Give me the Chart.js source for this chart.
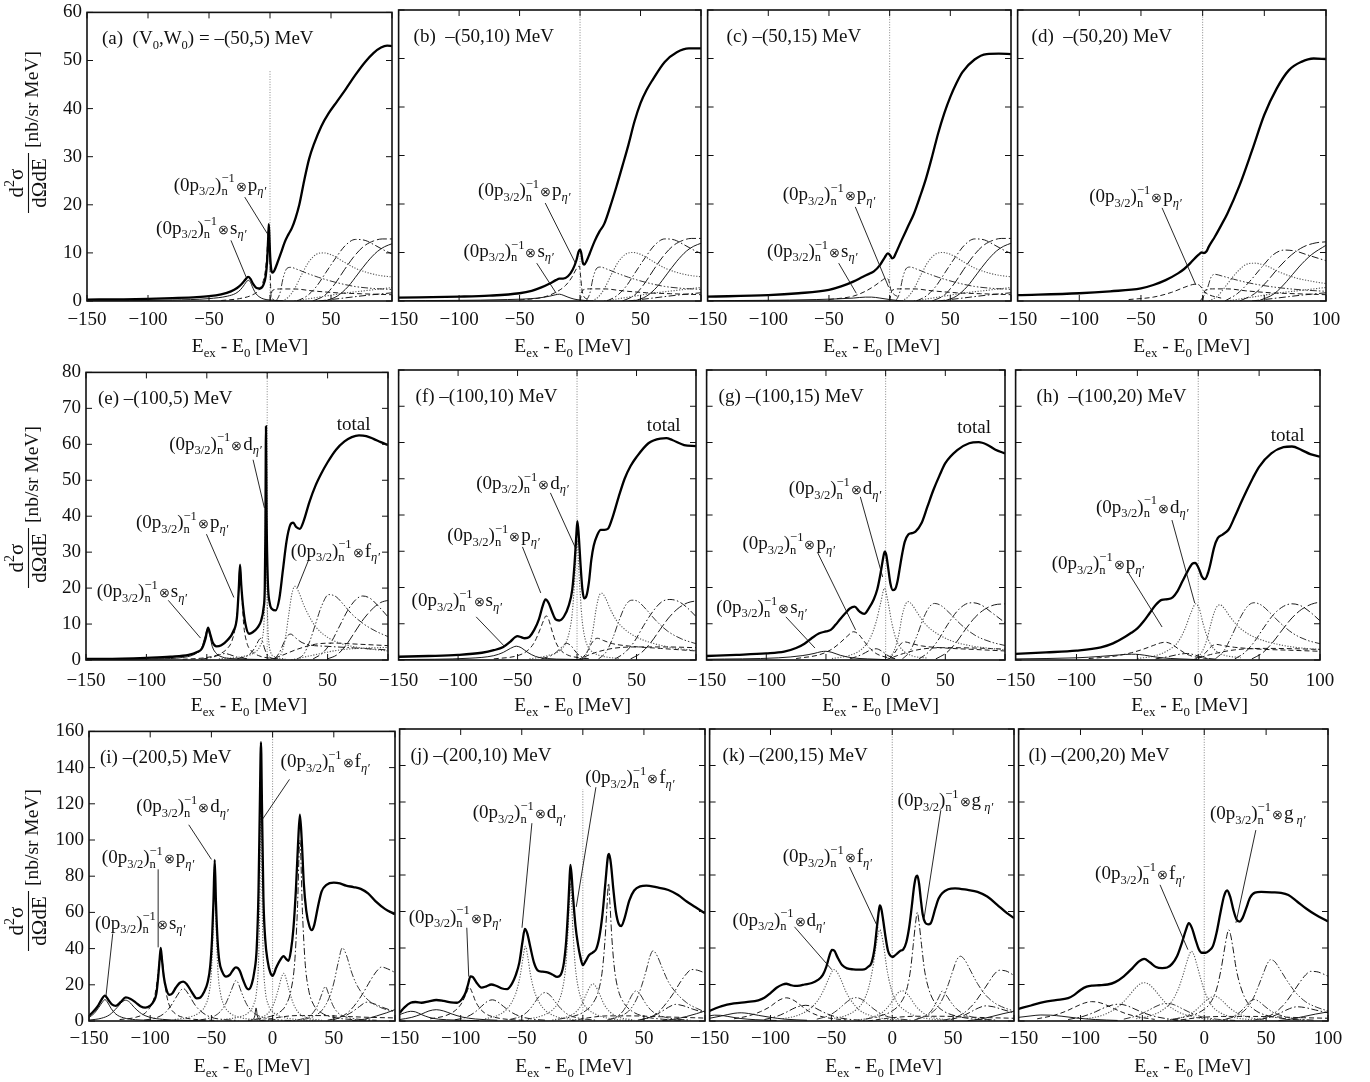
<!DOCTYPE html>
<html>
<head>
<meta charset="utf-8">
<script src="https://cdn.jsdelivr.net/npm/chart.js@4/dist/chart.umd.min.js"></script>
<style>
html, body { margin: 0; padding: 0; background: #fff; }
#wrap { position: relative; width: 1370px; height: 1082px; overflow: hidden; background: #fff; }
#wrap canvas { position: absolute; }
</style>
</head>
<body>
<div id="wrap"></div>
<script>
// ---- data: [E_ex - E_0 (MeV), d2sigma/dOmega dE (nb/sr MeV)] ----

// row 1 : V0 = -50 MeV
const aTot = [[-150,0.3],[-120,0.35],[-100,0.45],[-80,0.6],[-60,0.8],[-50,1],[-40,1.4],[-32,2],[-27,2.7],[-23,3.6],[-20,4.5],[-18,5],[-16,4.6],[-14,3.6],[-11,2.7],[-8,2.6],[-5.5,3.3],[-3.5,5.2],[-2.3,8.5],[-1.5,13],[-1,16],[-0.5,13.5],[0,10],[0.8,7],[2,5.9],[3.5,6.3],[6,7.9],[9,10],[12,12.2],[15,13.8],[18,15.2],[21,17.3],[24,20],[28,25],[32,29.5],[36,32.6],[42,36.3],[48,39],[55,41.5],[62,44],[70,47],[78,49.7],[85,51.6],[91,52.7],[96,53.1],[100,53]];
const aS = [[-150,0.05],[-80,0.2],[-50,0.5],[-35,1],[-28,1.6],[-24,2.4],[-21,3.4],[-19,4.1],[-17.5,4.3],[-16,3.9],[-14.5,3],[-12,1.7],[-9,0.9],[-5,0.4],[0,0.2],[10,0.05]];
const aP = [[-40,0.1],[-25,0.5],[-15,1.2],[-9,2.3],[-6,3.8],[-4,6],[-2.5,10],[-1.5,14.5],[-1,15.3],[-0.5,13],[0,8],[0.5,3],[1,1],[3,0.3]];

const bTot = [[-150,0.7],[-100,0.9],[-75,1.1],[-50,1.6],[-40,2.1],[-32,2.8],[-25,3.6],[-20,4.3],[-17,4.6],[-14,4.6],[-10,5.1],[-6,6.5],[-3,8.4],[-1.2,10.2],[0,10.6],[1,9.9],[2.2,8],[3.5,7.5],[5.5,8.3],[8,9.8],[12,12.3],[16,14.3],[20,15.9],[25,19.5],[30,23.5],[35,27.8],[40,32.2],[45,37],[50,40.8],[55,43.5],[60,45.6],[70,49.3],[80,51.3],[90,52.1],[100,52.1]];
const bS = [[-150,0.05],[-60,0.3],[-35,0.6],[-25,1],[-20,1.3],[-17,1.4],[-14,1.2],[-10,0.8],[-5,0.4],[0,0.2],[10,0]];
const bP = [[-50,0.2],[-30,0.8],[-20,1.8],[-12,3.2],[-7,4.8],[-4,6.2],[-2,7],[-0.5,7.2],[0.5,5],[1.5,2.5],[3,1],[6,0.4]];

const cTot = [[-150,0.9],[-100,1.2],[-75,1.6],[-50,2.3],[-40,3],[-30,4],[-22,5],[-17,5.6],[-13,6.1],[-8,7.4],[-4,9],[-1.5,9.8],[0.5,9.4],[2,8.8],[3.5,9],[5,9.8],[10,12.6],[15,15.3],[20,18],[25,21.5],[30,25.3],[35,29.8],[40,34.6],[45,38.7],[50,42.1],[55,44.9],[60,47.2],[70,49.8],[80,50.9],[90,51],[100,50.9]];
const cS = [[-150,0.05],[-60,0.3],[-30,0.6],[-20,0.8],[-15,0.8],[-8,0.6],[0,0.3],[10,0]];
const cP = [[-50,0.3],[-30,1],[-20,2],[-12,3.2],[-6,4.3],[-3,4.7],[-1,4.4],[0,3.5],[1,2.3],[3,1.5],[8,0.8]];

const dTot = [[-150,1.2],[-100,1.6],[-75,2],[-50,2.6],[-40,3.3],[-30,4.3],[-20,5.7],[-15,6.6],[-10,7.8],[-6,8.9],[-3,9.6],[-1,10],[1,9.9],[3,10.2],[5,11.2],[10,13.3],[15,15.6],[20,18],[30,23.9],[40,31],[50,38.4],[60,43.8],[70,47.6],[80,49.3],[90,50],[100,49.9]];
const dP = [[-60,0.3],[-40,0.8],[-25,1.8],[-15,2.8],[-8,3.4],[-5,3.5],[-2,3.1],[0,2.4],[2,1.8],[6,1.2],[15,0.6]];

// higher partial waves, row 1 (a-c look alike)
const r1K1 = [[5,0],[8,1.5],[11,5],[14,6.8],[17,7],[22,6.6],[30,5.8],[40,4.9],[55,3.8],[70,3],[85,2.6],[100,2.4]];
const r1K2 = [[10,0],[15,0.8],[20,2.5],[26,5.5],[32,8.2],[38,9.7],[44,10],[52,9.4],[60,8.2],[70,6.8],[80,5.9],[90,5.3],[100,5]];
const r1K3 = [[22,0],[30,1],[38,3],[46,6],[54,9],[62,11.6],[70,12.8],[78,12.6],[86,11.6],[94,10.5],[100,9.8]];
const r1K4 = [[35,0],[45,1.2],[53,3.5],[61,6.5],[69,9.3],[77,11.4],[85,12.5],[92,12.9],[100,12.9]];
const r1K5 = [[45,0],[55,1],[64,3],[72,5.6],[80,8.2],[88,10.3],[94,11.3],[100,11.9]];
const r1L1 = [[0,0],[2,2.2],[8,2.5],[20,2.5],[35,2.1],[55,1.7],[75,1.5],[100,1.3]];
const r1L2 = [[20,0],[40,0.8],[60,1.6],[80,2.2],[100,2.8]];
const r1L3 = [[40,0],[60,0.6],[80,1.2],[100,1.7]];
const dK1 = [[-2,0],[3,2],[7,5],[10,5.5],[15,5.2],[25,4.5],[40,3.6],[60,2.8],[80,2.3],[100,2]];
const dK2 = [[5,0],[12,1],[20,3.5],[28,6],[35,7.5],[42,7.8],[52,7.2],[62,6],[75,4.8],[90,4],[100,3.6]];
const dK3 = [[18,0],[28,1.5],[38,4],[48,7],[57,9.5],[66,10.5],[75,10.3],[85,9.5],[100,8.3]];
const dK4 = [[30,0],[42,1.5],[52,4],[62,7],[72,9.5],[82,11.2],[92,12],[100,12.2]];
const dK5 = [[45,0],[58,1.5],[68,4],[78,7],[88,9.5],[100,11.5]];

// row 2 : V0 = -100 MeV
const eTot = [[-150,0.3],[-120,0.4],[-100,0.6],[-80,0.9],[-65,1.4],[-58,2.2],[-54,3.2],[-51,6],[-49,9],[-47,7],[-45,4.8],[-42,3.8],[-38,4.1],[-33,5.5],[-28,8],[-25,12],[-23.5,20],[-22.5,26.5],[-21.5,21],[-20,15],[-18,10],[-15,7.3],[-12,7.7],[-8,9],[-5,11],[-3,14.5],[-2,20],[-1.5,35],[-1,65],[-0.5,40],[0.5,22],[2,16],[4,14.2],[7,13.8],[10,17],[13,25],[16,33],[19,37.5],[21.5,38.2],[24,37],[27,36.5],[30,38.5],[35,44],[40,48.5],[45,52],[50,55],[57,58.5],[64,60.8],[70,62],[76,62.5],[82,62.3],[88,61.5],[94,60.6],[100,59.8]];
const eS = [[-150,0.1],[-90,0.3],[-70,0.7],[-62,1.3],[-57,2.3],[-54,3.6],[-51.5,6.5],[-49.5,8.5],[-47.5,6.8],[-45.5,3.8],[-42,1.8],[-37,0.8],[-30,0.4],[-15,0.2],[0,0.1]];
const eP = [[-70,0.2],[-50,0.7],[-40,1.6],[-33,3.2],[-29,5.5],[-26,10],[-24,17],[-22.5,26],[-21,18],[-19.5,10],[-17,5],[-13,2.5],[-7,1.2],[0,0.6],[10,0.3]];
const eD = [[-40,0.3],[-20,1],[-10,2.2],[-6,3.8],[-4,6],[-2.5,12],[-1.7,25],[-1,64],[-0.3,25],[0.5,10],[1.5,4.5],[3,2],[6,0.9],[15,0.3]];
const eX1 = [[-25,0.3],[-15,1.5],[-10,3.5],[-7,5.5],[-5.5,6],[-4,5.3],[-2,3],[0,1.5],[3,0.6],[10,0.2]];
const eX2 = [[-55,0.2],[-45,0.8],[-38,1.6],[-35,1.8],[-31,1.5],[-25,0.8],[-15,0.3]];
const eF = [[8,0.3],[12,2],[15,6],[18,13],[20.5,18.5],[23,20.5],[26,19],[30,15.5],[35,12],[40,9.3],[50,6.3],[60,4.7],[75,3.5],[100,2.5]];
const eX3 = [[6,0.3],[10,2],[14,5],[17,6.8],[19.5,7.2],[23,6.3],[28,5],[35,4.2],[50,3.8],[70,3.4],[100,2.8]];
const eB1 = [[25,0.3],[30,1.5],[35,5],[40,10],[45,15],[51,18.2],[57,17.6],[63,15.5],[70,12.8],[80,10],[90,8],[100,6.5]];
const eB2 = [[38,0.3],[46,2],[53,5],[60,9.5],[67,14],[74,17],[79,17.8],[85,17.2],[92,15],[100,12]];
const eB3 = [[50,0.3],[58,1.5],[65,4],[72,7.5],[80,11.5],[88,14.5],[94,16],[100,16.6]];
const eL1 = [[0,0],[10,1],[25,3],[40,4.4],[55,4.7],[75,4.4],[100,4]];
const eL2 = [[20,0],[40,1.5],[60,2.8],[80,3.3],[100,3.5]];

const fTot = [[-150,0.9],[-125,1.1],[-100,1.4],[-80,2],[-70,2.7],[-62,3.6],[-56,5.1],[-52,6.3],[-50,6.6],[-47,6.3],[-44,6],[-40,6.4],[-36,8.3],[-32,11.3],[-29,14.8],[-26.5,16.7],[-24,15.8],[-21,13.3],[-18,11.2],[-15,10.9],[-11,12],[-7,15],[-4,19.5],[-2,27],[-0.5,35],[0.3,38.3],[1.5,34],[3,26],[4.5,19.5],[6,17],[8,17.8],[10,21.5],[12,27.6],[14,31.5],[17,34.5],[20,35.9],[23,35.9],[26,36.2],[30,39.5],[35,45],[40,50],[45,53.5],[50,56],[60,59.8],[70,61.1],[75,61.2],[80,60.7],[90,59.3],[100,59]];
const fS = [[-150,0.1],[-90,0.5],[-70,1.2],[-62,2.1],[-56,3.2],[-51,3.8],[-47,3.4],[-42,2.2],[-35,1],[-25,0.4],[-10,0.2],[5,0.1]];
const fP = [[-70,0.3],[-50,1.2],[-42,2.5],[-36,4.8],[-31,8.5],[-28,11],[-26,12.2],[-24,11.3],[-21,8],[-18,5],[-14,2.8],[-8,1.4],[0,0.7],[10,0.3]];
const fD = [[-40,0.3],[-25,1.2],[-15,2.5],[-9,5],[-6,8.5],[-4,13],[-2,22],[0,33],[2,22],[4,12],[6,7],[9,3.8],[14,2],[22,1],[35,0.4]];
const fX1 = [[-30,0.3],[-20,1.5],[-14,3.2],[-9,4.6],[-5,3.9],[-1,2.2],[3,1],[10,0.3]];
const fF = [[4,0.3],[9,2.5],[13,7.5],[16,14],[19,18],[21,18.4],[24,17],[28,14],[33,11],[40,8.5],[50,6.3],[65,4.5],[80,3.4],[100,2.6]];
const fX3 = [[4,0.3],[9,2.5],[13,5],[17,6],[22,5.4],[30,4.5],[45,3.8],[70,3.2],[100,2.5]];
const fB1 = [[18,0.3],[24,2],[30,6],[36,11.5],[41,15.2],[46,16.5],[51,16.2],[58,14],[66,11],[76,8],[88,5.8],[100,4.5]];
const fB2 = [[32,0.3],[40,2],[48,5],[56,9.5],[64,13.5],[71,16],[78,16.7],[85,16.2],[92,14.6],[100,12]];
const fB3 = [[45,0.3],[54,2],[62,4.8],[70,8.5],[78,12],[86,14.5],[93,15.8],[100,16.3]];
const fL1 = [[0,0],[15,2],[30,3.2],[50,3.6],[75,3.6],[100,3.4]];

const gTot = [[-150,1.1],[-125,1.4],[-100,1.8],[-85,2.3],[-75,3.3],[-68,4.5],[-62,6],[-56,7.3],[-50,7.9],[-46,8.3],[-42,9.7],[-38,11.3],[-34,12.8],[-30,14.2],[-26,14.7],[-22,13.4],[-18,12.7],[-14,14.3],[-10,16.7],[-7,19.5],[-4,24.4],[-2,28.3],[-0.8,29.9],[0.5,29],[2,25.7],[4,21.1],[6,19.3],[8,19.6],[10,21.8],[12,25.7],[14,29.5],[16,32.6],[19,34.6],[22,35],[25,35.4],[30,37.7],[35,42.3],[40,46.9],[45,50.8],[50,54.3],[60,57.9],[70,59.8],[78,60.1],[85,59.4],[92,58],[100,57]];
const gS = [[-150,0.2],[-90,0.6],[-70,1.2],[-60,1.8],[-54,2.3],[-50,2.4],[-45,2.1],[-38,1.3],[-28,0.6],[-15,0.3],[0,0.1]];
const gP = [[-75,0.4],[-55,1.5],[-45,3],[-38,4.8],[-32,6.6],[-27,7.8],[-23,7.2],[-19,5.6],[-14,3.5],[-8,1.8],[0,0.8],[10,0.3]];
const gD = [[-45,0.4],[-30,1.3],[-20,3],[-13,6],[-8,10.5],[-4,16],[-1,19.8],[2,16],[5,10.5],[9,5.5],[14,2.8],[22,1.2],[35,0.5]];
const gX1 = [[-30,0.3],[-20,1.5],[-13,2.7],[-8,3.1],[-3,2.4],[2,1.2],[8,0.4]];
const gF = [[2,0.3],[7,2.5],[11,7],[14,12.5],[17,15.6],[19,16.1],[22,15.3],[27,12.8],[33,10],[42,7.5],[55,5.3],[70,4],[85,3.3],[100,2.8]];
const gX3 = [[3,0.3],[8,2.2],[12,4.2],[16,5],[21,4.6],[30,3.9],[50,3.3],[75,2.9],[100,2.5]];
const gB1 = [[14,0.3],[20,2.2],[26,6.5],[32,11.8],[37,14.8],[41,15.6],[46,15.1],[54,12.8],[63,9.8],[75,6.8],[88,5],[100,4]];
const gB2 = [[28,0.3],[36,2.2],[44,5.5],[52,9.8],[60,13.5],[67,15.4],[73,15.8],[80,15.2],[88,13.3],[100,10.3]];
const gB3 = [[42,0.3],[51,2],[59,4.8],[67,8.5],[75,11.8],[83,14],[91,15.2],[100,15.5]];
const gL1 = [[0,0],[15,1.8],[30,3],[50,3.4],[75,3.3],[100,3]];

const hTot = [[-150,1.7],[-125,2.1],[-100,2.6],[-80,3.5],[-70,4.6],[-60,6.4],[-55,7.5],[-50,8.7],[-45,10.6],[-40,12.9],[-35,15.2],[-30,16.6],[-25,16.8],[-21,17.3],[-17,19],[-13,21.7],[-9,24.3],[-5,26.5],[-2.5,26.8],[-1,26.2],[1,24.8],[3,23],[5.5,22.3],[8,24],[10,26.5],[13,31],[16,33.6],[20,34.6],[25,36],[30,39.5],[35,43.3],[40,46.9],[45,50.3],[50,53.3],[60,57],[70,58.7],[77,58.9],[85,57.9],[92,56.8],[100,56.1]];
const hS = [[-150,0.3],[-100,0.6],[-80,1],[-65,1.4],[-55,1.6],[-48,1.5],[-40,1.1],[-30,0.6],[-15,0.3],[0,0.1]];
const hP = [[-90,0.4],[-70,1],[-55,2],[-45,3],[-37,4],[-31,4.7],[-27,4.9],[-22,4.4],[-16,3],[-10,1.7],[-3,0.9],[8,0.4]];
const hD = [[-50,0.4],[-35,1.2],[-25,2.6],[-17,4.8],[-11,8.5],[-6,13],[-2,15.5],[1,14],[4,10],[8,5.8],[13,3],[20,1.5],[35,0.6]];
const hX1 = [[-35,0.3],[-25,0.9],[-15,1.6],[-9,1.8],[-3,1.4],[5,0.6],[15,0.2]];
const hF = [[-2,0.4],[3,2.2],[7,5.5],[10,9.5],[13,13],[16,15],[18,15.2],[21,14.4],[26,12],[33,9.2],[42,7],[55,5.2],[70,4],[85,3.3],[100,2.9]];
const hX3 = [[0,0.3],[6,2],[11,3.8],[15,4.3],[20,4],[30,3.5],[50,3],[75,2.7],[100,2.4]];
const hB1 = [[14,0.3],[21,2.5],[28,7],[35,12],[41,15],[46,15.8],[52,15.1],[59,13],[68,10],[78,7.3],[89,5.5],[100,4.5]];
const hB2 = [[30,0.3],[38,2],[46,5],[54,9],[62,12.6],[70,14.8],[77,15.5],[84,15],[92,13.2],[100,10.8]];
const hB3 = [[44,0.3],[53,2],[61,4.8],[69,8.3],[77,11.6],[85,14],[93,15.4],[100,16]];
const hL1 = [[-5,0],[10,1.5],[30,2.8],[55,3.2],[80,3.1],[100,2.9]];

// row 3 : V0 = -200 MeV
const iTot = [[-150,3],[-147,4.8],[-143,8],[-140,11.5],[-137,14],[-134,11.5],[-131,9],[-128,8.4],[-124,10.5],[-120,13],[-116,12.2],[-112,10.3],[-108,8.2],[-104,7.4],[-100,8.5],[-97,11],[-95,15],[-93.5,24],[-92.3,34],[-91.4,40.4],[-90.4,34],[-89,25],[-87,18],[-84.5,14.5],[-82,15.2],[-79,18.5],[-76,21],[-73,21.8],[-70,20.2],[-66,16],[-62,12.5],[-59,13],[-56,16],[-53,21.5],[-51,30],[-49.5,45],[-48.3,66],[-47.3,89],[-46.3,66],[-45,45],[-43.5,33],[-41,27],[-38,24.5],[-35,25.5],[-32,28.5],[-30,29.6],[-27,28],[-24,22.5],[-21,18],[-19.5,17.5],[-17,20.5],[-15,27],[-13,40],[-11.5,72],[-10.4,120],[-9.5,154],[-8.7,120],[-7.5,68],[-6,45],[-4,33],[-2,27],[0,25],[3,29.5],[6,33.5],[9,35.8],[11,34.3],[13,33.2],[15,39],[17,51],[19,72],[20.8,98],[22.3,114],[23.8,100],[25.5,76],[27.5,61],[30,52.5],[32,50.2],[34,53],[37,63],[40,71.5],[44,75.2],[50,76.4],[55,76],[60,74.8],[66,74],[72,73],[78,70.5],[84,66.2],[92,61.8],[100,59]];
const iS1 = [[-150,2],[-146,4],[-142,7.5],[-139,10.5],[-137,11.8],[-135,10.5],[-132,7],[-128,3.8],[-122,1.8],[-112,0.7],[-95,0.3],[-70,0.1]];
const iS2 = [[-150,0.5],[-140,1.5],[-133,3.5],[-127,7.5],[-123,10.5],[-120,11.5],[-117,10.5],[-113,7.5],[-107,4],[-100,2],[-90,0.9],[-75,0.4],[-55,0.1]];
const iP = [[-125,0.8],[-112,2],[-104,4.5],[-99,9],[-96,15],[-94,24],[-92.5,33],[-91.3,38.5],[-90,33],[-88.5,23],[-86.5,14],[-84,8],[-79,3.8],[-72,1.8],[-60,0.7],[-45,0.3]];
const iX1 = [[-105,0.5],[-95,1.8],[-88,4.5],[-83,8.5],[-78,14],[-75,17],[-73,18],[-71,17],[-68,14],[-63,8.5],[-57,4.5],[-50,2],[-40,0.8],[-28,0.3]];
const iD = [[-80,0.8],[-68,2.2],[-60,4.5],[-55,8.5],[-52,15],[-50,27],[-48.7,48],[-47.3,87],[-45.9,48],[-44.6,27],[-42.5,15],[-39.5,8.5],[-35,4.5],[-27,2],[-15,0.8],[0,0.3]];
const iX2 = [[-60,0.5],[-50,2],[-43,5],[-38,10],[-34,16.5],[-31,21.5],[-30,22.4],[-28.5,21.5],[-25.5,16],[-21,9],[-15,4.3],[-8,2],[5,0.6],[20,0.2]];
const iF = [[-40,0.8],[-28,2.2],[-20,4.5],[-15.5,9],[-13,17],[-11.4,35],[-10.3,75],[-9.5,150],[-8.7,75],[-7.6,35],[-6,17],[-3.5,9],[1,4.5],[8,2.2],[20,0.8],[35,0.3]];
const iX3 = [[-20,0.2],[-16,0.8],[-14.5,3],[-13.5,7.2],[-12.5,3],[-11,0.8],[-7,0.2]];
const iX4 = [[-20,0.5],[-10,1.8],[-3,4.8],[1,9.5],[4.5,17],[7,23.5],[9,26.4],[11,23.5],[13.5,17],[17,9.5],[21,4.8],[28,1.8],[40,0.5]];
const iG = [[-15,0.8],[-5,2],[5,4.5],[11,9],[15,17],[18,32],[20.2,60],[22.3,100],[24.4,60],[26.6,32],[29.5,17],[33.5,9],[40,4.5],[50,2],[65,0.8],[80,0.3]];
const iX5 = [[20,0.5],[28,2],[33,4.5],[37,9],[40,14.5],[43,19],[46,14.5],[49,9],[53,4.8],[60,2.2],[70,1],[85,0.4]];
const iX6 = [[25,0.8],[35,3],[41,6.5],[46,12.5],[50,21],[53.5,32],[57,40.4],[60.5,36],[64,28],[68,21],[74,14.5],[80,10.5],[88,7.5],[100,5]];
const iX7 = [[50,0.8],[58,2.5],[65,5],[71,8],[77,10.4],[83,9.5],[90,7.5],[100,5.2]];
const iX8 = [[45,0.5],[55,2],[62,5],[68,9.5],[74,15.5],[80,22.5],[85,27.5],[89,29.8],[94,28.8],[100,26.8]];
const iX9 = [[65,0.2],[75,1],[85,2.8],[93,4.5],[100,6.3]];
const iL1 = [[-10,0],[5,2],[20,3],[40,3],[60,2.5],[80,2],[100,1.7]];

const jTot = [[-150,4.5],[-146,7.5],[-141,10],[-137,10.4],[-132,10],[-126,10.8],[-120,11.5],[-114,11],[-108,10.2],[-103,10],[-99,12],[-96,15.5],[-94,20],[-92,24.5],[-90,24],[-87,21],[-83,18.3],[-79,19],[-75,20],[-71,19.3],[-66,17.8],[-62,17.5],[-58,20.5],[-55,25],[-52,32],[-49.5,43],[-47.5,50.5],[-45.5,48],[-43,40.5],[-40,32],[-37,27.8],[-33,27],[-29,26.7],[-25,25.5],[-21,24.2],[-18,25.5],[-15.5,32],[-13.5,45],[-12,62],[-11,76],[-10.2,85.5],[-9.2,80],[-8,68],[-6,52],[-4,42],[-2,35],[0,30.6],[2,32.5],[5,36],[8,37.5],[11,39.5],[13.5,46],[16,58],[18.5,76],[20.5,90],[21.5,91.5],[23,86],[25,72],[27,60],[29.5,53],[31.5,52],[34,56],[38,66],[42,71.5],[47,73.8],[52,74.2],[60,73.3],[70,71.8],[78,69],[85,65.5],[92,62.5],[100,59]];
const jS1 = [[-150,3.5],[-146,4.5],[-141,5.3],[-137,5],[-132,3.5],[-126,2],[-118,1],[-105,0.5],[-85,0.2]];
const jS2 = [[-150,0.8],[-140,2],[-132,3.8],[-126,5.5],[-120,6.2],[-114,5.5],[-107,3.8],[-99,2.2],[-88,1.1],[-70,0.4]];
const jP = [[-125,1.2],[-112,3],[-104,6],[-99,10],[-95.5,15],[-93,18.5],[-90.5,15.5],[-88,11],[-85,7.5],[-80,4.2],[-72,2],[-60,0.8],[-45,0.3]];
const jX1 = [[-105,0.6],[-96,2],[-89,4.5],[-83,8],[-78,10.8],[-74,11.6],[-70,10.6],[-65,8],[-59,5],[-52,2.7],[-42,1.1],[-30,0.4]];
const jD = [[-80,1.2],[-70,3],[-63,6],[-58,10.5],[-54,17],[-51,26],[-48.7,36],[-47,40.9],[-45.3,36],[-43,26],[-40,17],[-36,10.5],[-31,6],[-24,3],[-13,1.2],[0,0.5]];
const jX2 = [[-60,0.8],[-50,2.8],[-44,6],[-39,10.5],[-35,14],[-31,15.6],[-27,14.2],[-23,10.8],[-18,6.8],[-12,3.5],[-3,1.5],[10,0.5]];
const jF = [[-45,1],[-33,3],[-25,6],[-20,10.5],[-16.5,18],[-14,30],[-12.2,48],[-11,65],[-10.1,75.5],[-9.2,65],[-8,48],[-6.2,30],[-3.7,18],[-0.2,10.5],[5,6],[13,3],[25,1],[40,0.3]];
const jX4 = [[-25,0.5],[-14,2],[-6,4.8],[-1,9],[3,15],[6,19],[8.3,20.4],[10.5,19],[13.5,15],[17.5,9],[22.5,4.8],[30,2],[42,0.5]];
const jG = [[-20,1],[-8,2.5],[2,5.5],[8.5,10],[13,17],[16,28],[18.2,45],[19.8,63],[21,75.5],[22.3,63],[23.8,45],[26,28],[29,17],[33.5,10],[40,5.5],[50,2.5],[65,1],[80,0.4]];
const jX5 = [[20,0.5],[28,2.5],[33,5.5],[37,10],[40.5,14.5],[43.5,16.5],[47,14.5],[51,10],[56,5.8],[63,3],[73,1.3],[88,0.5]];
const jX6 = [[22,0.8],[32,3],[39,6.5],[44,12],[48,19],[52,28],[55,35.5],[57.5,38.5],[61,35.5],[65,29],[70,21.5],[77,15],[85,10],[93,7],[100,5]];
const jX7 = [[48,0.8],[57,2.5],[64,5],[70,7.5],[76,9.1],[82,8.4],[90,6.5],[100,4.5]];
const jX8 = [[45,0.5],[55,2],[62,5],[68,9.5],[74,15],[80,21.5],[85,26],[89,28.2],[94,27.8],[100,26.3]];
const jX9 = [[65,0.2],[75,1],[85,2.5],[93,4],[100,5.5]];
const jL1 = [[-10,0],[5,1.8],[20,2.8],[40,2.8],[60,2.4],[80,2],[100,1.6]];

const kTot = [[-150,5.5],[-145,7],[-140,8.2],[-130,9.6],[-120,10.4],[-110,11.3],[-105,12.7],[-100,15.3],[-95,18.2],[-90,20],[-87,20.4],[-84,19.8],[-80,19.2],[-76,19.4],[-72,20],[-66,20.8],[-61,22.5],[-57,25.3],[-54,30],[-51.5,36],[-49.5,39],[-47.5,38.5],[-45,35],[-41,30.5],[-37,28.8],[-32,28.3],[-27,28.2],[-23,28.3],[-20,29.6],[-17,32],[-14.5,40],[-12.5,52],[-11,60.5],[-10.2,63.3],[-9,61.5],[-7.5,55.5],[-5.5,46],[-3.5,38.5],[-1.5,35.8],[0,35.1],[2,35.8],[4.6,37.3],[7,38.6],[9,39.2],[11.5,43],[14,51.8],[16,62.5],[18,74],[19.5,79],[20.6,79.6],[22,75.5],[23.5,66.4],[25,58.5],[27,54],[29.5,53],[31.5,53.5],[35.5,62],[38,67],[41,70],[46,72.2],[51.6,72.7],[62,71.8],[70,70.8],[78,68.2],[86,63.8],[94,59.2],[100,56.4]];
const kS0 = [[-150,2.8],[-146,3.2],[-141,3.1],[-135,2.5],[-125,1.4],[-112,0.7],[-95,0.3]];
const kS1 = [[-150,1.5],[-140,2.8],[-130,4.2],[-124,4.5],[-118,4.1],[-110,3.1],[-100,2],[-88,1],[-70,0.4]];
const kP = [[-130,1.2],[-118,2.8],[-108,5.2],[-100,8],[-94,11],[-90,12.3],[-87,12.7],[-84,12.3],[-80,11],[-75,8.5],[-69,5.5],[-61,3],[-50,1.4],[-38,0.6]];
const kX1 = [[-105,0.8],[-95,2.5],[-87,4.8],[-80,7.2],[-75,8.3],[-71,8.6],[-66,8],[-60,6],[-53,3.8],[-45,2],[-35,0.9],[-22,0.3]];
const kD = [[-90,1.2],[-78,3],[-69,6],[-62,10.5],[-57,16],[-53,22],[-50,26.5],[-48,28.2],[-45.5,27],[-42,22.5],[-38,16],[-33,10.5],[-27,6],[-18,3],[-6,1.2],[8,0.4]];
const kX2 = [[-62,1],[-52,3],[-45,6],[-39,9.5],[-34,12],[-30,12.8],[-26,12.2],[-21,9.8],[-15,6.5],[-8,3.5],[2,1.5],[15,0.5]];
const kF = [[-50,1.2],[-38,3],[-30,6],[-24,10.5],[-19.5,18],[-16,29],[-13.3,41],[-11.5,48],[-10.2,50],[-9,48],[-7,41],[-4.5,29],[-1,18],[3.5,10.5],[10,6],[18,3],[30,1.2],[45,0.4]];
const kX4 = [[-28,0.5],[-17,2],[-8,4.8],[-2,9],[3,14],[6,16.2],[8.5,16.5],[11,15.8],[14.5,13],[19,8.5],[25,4.6],[33,2],[45,0.6]];
const kG = [[-22,1],[-10,2.8],[0,5.5],[7,10],[12,17.5],[15,28],[17.3,42],[19.2,54],[20.6,59.5],[22,54],[24,42],[26.5,28],[30,17.5],[35,10],[42,5.5],[52,2.8],[65,1.2],[80,0.4]];
const kX5 = [[18,0.5],[26,2.5],[32,5.5],[36,10],[39,14],[41,16.4],[44,14.5],[48,10.5],[53,6.5],[60,3.5],[70,1.5],[85,0.5]];
const kX6 = [[20,1],[30,3.5],[37,7.5],[42,13],[46,20],[50,28],[53,33.5],[56,35.5],[59.5,33.5],[64,28],[70,20.5],[77,14],[85,9.5],[93,7],[100,5.5]];
const kX7 = [[48,0.8],[57,2.5],[64,4.8],[71,7.2],[77,8.3],[83,7.8],[91,6.2],[100,4.5]];
const kX8 = [[42,0.5],[52,2],[60,5],[67,9.5],[73,15],[79,21],[84,25.8],[88,27.8],[93,27.5],[100,25]];
const kX9 = [[62,0.2],[72,1],[82,2.5],[91,4],[100,5.3]];
const kL1 = [[-20,0],[0,1.8],[20,2.6],[40,2.6],[60,2.2],[80,1.8],[100,1.5]];

const lTot = [[-150,6.7],[-140,8.5],[-130,10.4],[-120,11.5],[-110,12.5],[-105,14.3],[-100,17],[-95,18.8],[-90,19.4],[-85,19.6],[-78,20],[-72,21.3],[-65,24.5],[-58,29],[-53,32.5],[-48.5,34],[-44,32.2],[-39,29.6],[-34,29],[-30,29.3],[-26,31.3],[-22,35.5],[-18,43],[-15,49.5],[-12.5,53.6],[-10,51],[-7,44.5],[-4.5,39.5],[-2,37.4],[1,37.4],[4,38.6],[7,41],[10,48.5],[13,59],[16,68.5],[18.5,71.5],[21,68],[23.5,61],[26,55.8],[28.5,54.5],[31,56.5],[34,62],[37,67.5],[41,70.3],[46,70.7],[55,70.5],[62,70.2],[68,69],[75,65.5],[82,61.8],[90,58.2],[100,54.5]];
const lS1 = [[-150,2],[-140,2.8],[-132,3.3],[-124,3.2],[-115,2.6],[-103,1.6],[-88,0.8],[-70,0.3]];
const lP = [[-135,1.2],[-122,3],[-112,5.3],[-104,7.8],[-97,9.8],[-91,10.6],[-86,10.3],[-80,9],[-73,6.8],[-64,4.2],[-53,2.2],[-40,0.9]];
const lX1 = [[-110,0.8],[-98,2.5],[-88,5],[-80,7.5],[-74,8.8],[-69,9.2],[-63,8.5],[-56,6.5],[-48,4.2],[-38,2.2],[-26,0.9],[-12,0.3]];
const lD = [[-95,1.2],[-82,3.2],[-73,6.2],[-66,10],[-60,14.5],[-55,18.5],[-51,20.6],[-48,21],[-44.5,20],[-40,17],[-35,12.8],[-29,8.5],[-21,5],[-10,2.4],[3,1],[20,0.3]];
const lX2 = [[-65,1],[-54,3],[-46,5.5],[-39,8],[-33.5,9.4],[-29,9.6],[-24,8.8],[-18,6.8],[-11,4.5],[-2,2.3],[10,1],[25,0.3]];
const lF = [[-55,1.2],[-42,3.2],[-33,6.3],[-26,11],[-21,17.5],[-17,25.5],[-14,32.5],[-12,36.5],[-10.5,38.2],[-8.5,36.5],[-6,31],[-3,23.5],[1,15],[6,8.5],[13,4.5],[25,1.8],[40,0.6]];
const lX4 = [[-30,0.5],[-18,2],[-9,4.8],[-3,8.3],[2,11.5],[6,13.2],[8.5,13.6],[11,13],[15,10.8],[20,7.5],[27,4.2],[36,2],[48,0.6]];
const lG = [[-25,1],[-12,2.8],[-2,5.5],[5,10],[10,17.5],[13.5,28],[16.5,40],[18.5,47.5],[19.8,50],[21.2,47.5],[23.2,40],[26,28],[30,17.5],[35,10],[42,5.5],[52,2.8],[66,1.2],[82,0.4]];
const lX5 = [[15,0.5],[23,2.3],[29,5],[34,8.5],[37.5,11],[40.5,11.8],[44,10.8],[49,8],[55,5],[63,2.8],[74,1.2],[90,0.4]];
const lX6 = [[18,1],[28,3.5],[35,7.5],[40,13],[44,19.5],[48,26.5],[51,31.5],[53.5,33.6],[57,32.5],[61,28.5],[67,22],[74,15.5],[82,10.5],[91,7.5],[100,5.5]];
const lX7 = [[45,0.8],[55,2.5],[62,4.6],[69,6.8],[75,7.8],[81,7.4],[90,6],[100,4.5]];
const lX8 = [[40,0.5],[50,2],[58,5],[65,9.5],[71,15],[77,21],[82,25.3],[86,27.2],[91,27],[96,25.8],[100,24.5]];
const lX9 = [[60,0.2],[70,1],[80,2.4],[90,3.8],[100,5]];
const lL1 = [[-25,0],[-5,1.8],[15,2.5],[40,2.5],[60,2.2],[80,1.8],[100,1.5]];

const xTicks = [-150, -100, -50, 0, 50, 100];
const yMax = [60, 80, 160];
const yStep = [10, 10, 20];

// ---- layout / styles ----
const FONT = '"Liberation Serif", "Times New Roman", serif';
const ROWS = [
  { top: 10, bottom: 301, left: 87, w: 309.7, titleBottom: 213, tickPad: 8 },
  { top: 370, bottom: 660, left: 86, w: 308.5, titleBottom: 588, tickPad: 10 },
  { top: 729, bottom: 1021, left: 89, w: 309.8, titleBottom: 951, tickPad: 7 }
];
const STY = {
  s:   { dash: [], col: '#1a1a1a', w: 1 },
  da:  { dash: [5, 3], col: '#1a1a1a', w: 1 },
  dt:  { dash: [1.2, 1.6], col: '#555', w: 1.1 },
  dd:  { dash: [7, 2.5, 1.5, 2.5], col: '#1a1a1a', w: 1 },
  ddd: { dash: [7, 2, 1.5, 2, 1.5, 2], col: '#333', w: 1 },
  ld:  { dash: [10, 3], col: '#1a1a1a', w: 1 }
};

const row1Rest = [[r1K1,'ddd'],[r1K2,'dt'],[r1K3,'dd'],[r1K4,'ld'],[r1K5,'s'],[r1L1,'da'],[r1L2,'dt'],[r1L3,'dd']];

const panels = [
  { row: 0, col: 0, title: [['(a)  (V','n'],['0','sub'],[',W','n'],['0','sub'],[') = –(50,5) MeV','n']], tdx: 15, zeroTop: 48,
    total: aTot, comps: [[aS,'s'],[aP,'da']].concat(row1Rest),
    labels: [{ s: 'p', at: [-78.9,22.9], from: [-20.7,21.6], to: [-2.2,14] }, { s: 's', at: [-93.4,14], from: [-32,12.6], to: [-19.1,4.7] }] },
  { row: 0, col: 1, title: [['(b)  –(50,10) MeV','n']], tdx: 15, zeroTop: 60,
    total: bTot, comps: [[bS,'s'],[bP,'da']].concat(row1Rest),
    labels: [{ s: 'p', at: [-84.3,21.6], from: [-28.8,20.2], to: [-3.8,7.8] }, { s: 's', at: [-96.4,9.1], from: [-35.8,7.8], to: [-19.7,1.6] }] },
  { row: 0, col: 2, title: [['(c) –(50,15) MeV','n']], tdx: 19, zeroTop: 60,
    total: cTot, comps: [[cS,'s'],[cP,'da']].concat(row1Rest),
    labels: [{ s: 'p', at: [-88.1,20.8], from: [-28.3,19.4], to: [-0.9,2.9] }, { s: 's', at: [-101,9.1], from: [-42,7.8], to: [-27.5,1.6] }] },
  { row: 0, col: 3, title: [['(d)  –(50,20) MeV','n']], tdx: 14, zeroTop: 60,
    total: dTot, comps: [[dP,'da'],[dK1,'ddd'],[dK2,'dt'],[dK3,'dd'],[dK4,'ld'],[dK5,'s'],[r1L1,'da'],[r1L2,'dt'],[r1L3,'dd']],
    labels: [{ s: 'p', at: [-91.9,20.4], from: [-32.9,19.2], to: [-5.5,3.3] }] },

  { row: 1, col: 0, title: [['(e) –(100,5) MeV','n']], tdx: 12, zeroTop: 80, totalAt: [57.5,64],
    total: eTot, comps: [[eS,'s'],[eP,'da'],[eD,'dt'],[eX1,'dd'],[eX2,'dd'],[eF,'dt'],[eX3,'dd'],[eB1,'ddd'],[eB2,'dd'],[eB3,'ld'],[eL1,'da'],[eL2,'dt']],
    labels: [{ s: 'd', at: [-81.1,58.5], from: [-11.7,55.7], to: [-2.3,42.3] }, { s: 'p', at: [-108.7,36.7], from: [-50.3,35], to: [-27.6,17.4] },
             { s: 's', at: [-141.1,17.4], from: [-81.9,16.6], to: [-55.2,6.1] }, { s: 'f', at: [19.4,28.7], from: [34,27.6], to: [25,20.1] }] },
  { row: 1, col: 1, title: [['(f) –(100,10) MeV','n']], tdx: 17, zeroTop: 80, totalAt: [58.7,63.2],
    total: fTot, comps: [[fS,'s'],[fP,'da'],[fD,'dt'],[fX1,'dd'],[fF,'dt'],[fX3,'da'],[fB1,'ddd'],[fB2,'dd'],[fB3,'ld'],[fL1,'da']],
    labels: [{ s: 'd', at: [-84.8,47.2], from: [-22.4,46.1], to: [-1.3,30.9] }, { s: 'p', at: [-109.1,32.8], from: [-45.9,31.2], to: [-30.5,18.5] },
             { s: 's', at: [-139.1,14.9], from: [-84.8,11.9], to: [-60.5,3.6] }] },
  { row: 1, col: 2, title: [['(g) –(100,15) MeV','n']], tdx: 12, zeroTop: 80, totalAt: [59.9,62.6],
    total: gTot, comps: [[gS,'s'],[gP,'da'],[gD,'dt'],[gX1,'dd'],[gF,'dt'],[gX3,'da'],[gB1,'ddd'],[gB2,'dd'],[gB3,'ld'],[gL1,'da']],
    labels: [{ s: 'd', at: [-81.1,45.8], from: [-21.2,45], to: [-2.5,22.9] }, { s: 'p', at: [-120,30.6], from: [-56.8,29.5], to: [-25.2,8.3] },
             { s: 's', at: [-141.9,13], from: [-83.6,11.9], to: [-59.2,3.3] }] },
  { row: 1, col: 3, title: [['(h)  –(100,20) MeV','n']], tdx: 21, zeroTop: 80, totalAt: [59.5,60.4],
    total: hTot, comps: [[hS,'s'],[hP,'da'],[hD,'dt'],[hX1,'dd'],[hF,'dt'],[hX3,'da'],[hB1,'ddd'],[hB2,'dd'],[hB3,'ld'],[hL1,'da']],
    labels: [{ s: 'd', at: [-84,40.6], from: [-21.6,38.6], to: [-2.9,15.7] }, { s: 'p', at: [-120.4,25.1], from: [-57.2,24], to: [-29.7,9.1] }] },

  { row: 2, col: 0, title: [['(i) –(200,5) MeV','n']], tdx: 11, zeroTop: 160,
    total: iTot, comps: [[iS1,'s'],[iS2,'s'],[iP,'da'],[iX1,'dd'],[iD,'dt'],[iX2,'ddd'],[iF,'dt'],[iX3,'s'],[iX4,'dt'],[iG,'dd'],[iX5,'ddd'],[iX6,'ddd'],[iX7,'dd'],[iX8,'dd'],[iX9,'s'],[iL1,'da']],
    labels: [{ s: 's', at: [-145.2,51.1], from: [-130.6,48.3], to: [-136.3,12.8] }, { s: 'p', at: [-139.5,87.1], from: [-93.5,83.8], to: [-93.5,40.7] },
             { s: 'd', at: [-111.3,115.5], from: [-68.5,108.4], to: [-50,89.3] }, { s: 'f', at: [6.5,140.1], from: [13.8,133.5], to: [-8,111.7] }] },
  { row: 2, col: 1, title: [['(j) –(200,10) MeV','n']], tdx: 11, zeroTop: 127,
    total: jTot, comps: [[jS1,'s'],[jS2,'s'],[jP,'da'],[jX1,'dd'],[jD,'dt'],[jX2,'ddd'],[jF,'dt'],[jX4,'dt'],[jG,'dd'],[jX5,'ddd'],[jX6,'ddd'],[jX7,'dd'],[jX8,'dd'],[jX9,'s'],[jL1,'da']],
    labels: [{ s: 'p', at: [-142.6,53.8], from: [-95,51.1], to: [-93.4,24.3] }, { s: 'd', at: [-90.1,111.1], from: [-41.7,108.4], to: [-49.8,51.1] },
             { s: 'f', at: [1.9,130.3], from: [10.7,128.1], to: [-5.4,62.5] }] },
  { row: 2, col: 2, title: [['(k) –(200,15) MeV','n']], tdx: 13, zeroTop: 160,
    total: kTot, comps: [[kS0,'s'],[kS1,'s'],[kP,'da'],[kX1,'dd'],[kD,'dt'],[kX2,'ddd'],[kF,'dt'],[kX4,'dt'],[kG,'dd'],[kX5,'ddd'],[kX6,'ddd'],[kX7,'dd'],[kX8,'dd'],[kX9,'s'],[kL1,'da']],
    labels: [{ s: 'd', at: [-131.1,52.2], from: [-80.3,51.6], to: [-49.6,28.1] }, { s: 'f', at: [-90,87.1], from: [-35.1,84.4], to: [-11.7,51.1] },
             { s: 'g', at: [4.4,117.7], from: [39.9,115.5], to: [26.2,56.5] }] },
  { row: 2, col: 3, title: [['(l) –(200,20) MeV','n']], tdx: 10, zeroTop: 160,
    total: lTot, comps: [[lS1,'s'],[lP,'da'],[lX1,'dd'],[lD,'dt'],[lX2,'ddd'],[lF,'dt'],[lX4,'dt'],[lG,'dd'],[lX5,'ddd'],[lX6,'ddd'],[lX7,'dd'],[lX8,'dd'],[lX9,'s'],[lL1,'da']],
    labels: [{ s: 'f', at: [-88.2,77.8], from: [-35.7,74.6], to: [-13.2,39.1] }, { s: 'g', at: [4.6,110.6], from: [41.7,104.6], to: [25.6,53.8] }] }
];

// ---- text helpers ----
function rich(ctx, x, y, parts, size) {
  const sm = size * 0.66;
  let cx = x;
  ctx.textBaseline = 'alphabetic';
  ctx.textAlign = 'left';
  for (const [t, k] of parts) {
    if (k === 'n') {
      ctx.font = size + 'px ' + FONT;
      ctx.fillText(t, cx, y); cx += ctx.measureText(t).width;
    } else if (k === 'sub' || k === 'isub') {
      ctx.font = (k === 'isub' ? 'italic ' : '') + sm + 'px ' + FONT;
      ctx.fillText(t, cx, y + size * 0.24); cx += ctx.measureText(t).width;
    } else if (k === 'sup') {
      ctx.font = sm + 'px ' + FONT;
      ctx.fillText(t, cx, y - size * 0.42); cx += ctx.measureText(t).width;
    } else if (k === 'ss') {
      ctx.font = sm + 'px ' + FONT;
      const w = Math.max(ctx.measureText(t[0]).width, ctx.measureText(t[1]).width);
      ctx.fillText(t[0], cx, y + size * 0.24);
      ctx.fillText(t[1], cx, y - size * 0.44);
      cx += w;
    } else if (k === 'op') {
      ctx.font = (size * 0.68) + 'px ' + FONT;
      cx += 1;
      ctx.fillText(t, cx, y); cx += ctx.measureText(t).width + 1;
    }
  }
  return cx - x;
}
function richWidth(ctx, parts, size) {
  ctx.save(); ctx.globalAlpha = 0;
  const w = rich(ctx, 0, 0, parts, size);
  ctx.restore();
  return w;
}
function stateParts(s) {
  const p = [['(0p','n'],['3/2','sub'],[')','n'],[['n','−1'],'ss'],['⊗','op']];
  if (s === 'g') return p.concat([['g','n'],[' η′','isub']]);
  return p.concat([[s,'n'],['η′','isub']]);
}
const xTitle = [['E','n'],['ex','sub'],[' - E','n'],['0','sub'],[' [MeV]','n']];
const fmt = v => v < 0 ? '−' + Math.abs(v) : String(v);

const framePlugin = {
  id: 'frame',
  afterDatasetsDraw(chart) {
    const p = chart.options.plugins.frame;
    const { ctx, chartArea: a, scales: { x, y } } = chart;
    ctx.save();
    ctx.fillStyle = '#111';
    ctx.strokeStyle = '#111';
    // leader lines and state labels
    ctx.lineWidth = 0.9;
    for (const lb of p.labels) {
      ctx.beginPath();
      ctx.moveTo(x.getPixelForValue(lb.from[0]), y.getPixelForValue(lb.from[1]));
      ctx.lineTo(x.getPixelForValue(lb.to[0]), y.getPixelForValue(lb.to[1]));
      ctx.stroke();
      rich(ctx, x.getPixelForValue(lb.at[0]), y.getPixelForValue(lb.at[1]), stateParts(lb.s), 19);
    }
    if (p.totalAt) {
      rich(ctx, x.getPixelForValue(p.totalAt[0]), y.getPixelForValue(p.totalAt[1]), [['total','n']], 19);
    }
    // panel title
    rich(ctx, a.left + p.tdx, a.top + 32, p.title, 19);
    // frame and inward ticks
    ctx.lineWidth = 1.6;
    ctx.strokeRect(a.left, a.top, a.right - a.left, a.bottom - a.top);
    ctx.lineWidth = 1;
    ctx.beginPath();
    x.ticks.forEach(t => {
      const px = x.getPixelForValue(t.value);
      ctx.moveTo(px, a.bottom); ctx.lineTo(px, a.bottom - 6);
      ctx.moveTo(px, a.top); ctx.lineTo(px, a.top + 6);
    });
    y.ticks.forEach(t => {
      const py = y.getPixelForValue(t.value);
      ctx.moveTo(a.left, py); ctx.lineTo(a.left + 6, py);
      ctx.moveTo(a.right, py); ctx.lineTo(a.right - 6, py);
    });
    ctx.stroke();
    // x axis title
    const tw = richWidth(ctx, xTitle, 19.5);
    rich(ctx, a.left + p.xtc - tw / 2, a.bottom + 51, xTitle, 19.5);
    // y axis title (first column), rotated
    if (p.ytitle) {
      const by = p.ytitle - chart.canvas.offsetTop;
      ctx.translate(0, by);
      ctx.rotate(-Math.PI / 2);
      const num = [['d','n'],['2','sup'],['σ','n']];
      const den = [['dΩdE','n']];
      const fw = 60;
      const nw = richWidth(ctx, num, 21), dw = richWidth(ctx, den, 21);
      rich(ctx, (fw - nw) / 2, 23, num, 21);
      rich(ctx, (fw - dw) / 2, 46, den, 21);
      ctx.lineWidth = 1.1;
      ctx.beginPath(); ctx.moveTo(0, 28.5); ctx.lineTo(fw, 28.5); ctx.stroke();
      rich(ctx, fw + 5, 38, [['[nb/sr MeV]','n']], 19.5);
    }
    ctx.restore();
  }
};

Chart.defaults.font.family = FONT;
Chart.defaults.font.size = 19;
Chart.defaults.color = '#111';

const wrap = document.getElementById('wrap');
panels.forEach(p => {
  const row = ROWS[p.row], c = p.col;
  const L = Math.round(row.left + c * row.w), R = Math.round(row.left + (c + 1) * row.w);
  const T = row.top, B = row.bottom;
  const padL = c === 0 ? L : 26, padR = c === 3 ? 26 : 3, padT = 14, padB = 64;
  const W = R - L + padL + padR, H = B - T + padT + padB;
  const cv = document.createElement('canvas');
  cv.width = W; cv.height = H;
  cv.style.left = (L - padL) + 'px'; cv.style.top = (T - padT) + 'px';
  cv.style.width = W + 'px'; cv.style.height = H + 'px';
  wrap.appendChild(cv);

  const toXY = arr => arr.map(([x, y]) => ({ x, y }));
  const datasets = [{
    data: toXY(p.total), borderColor: '#000', borderWidth: 2.3, pointRadius: 0,
    cubicInterpolationMode: 'monotone', fill: false
  }];
  p.comps.forEach(([arr, st]) => {
    const s = STY[st];
    datasets.push({
      data: toXY(arr), borderColor: s.col, borderWidth: s.w, borderDash: s.dash,
      pointRadius: 0, cubicInterpolationMode: 'monotone', fill: false
    });
  });
  datasets.push({
    data: [{ x: 0, y: 0 }, { x: 0, y: p.zeroTop }], borderColor: '#888', borderWidth: 1,
    borderDash: [1, 1.6], pointRadius: 0, fill: false
  });

  new Chart(cv, {
    type: 'line',
    data: { datasets },
    options: {
      responsive: false, animation: false, events: [],
      layout: { padding: { top: padT, right: padR, left: 0, bottom: 0 } },
      plugins: {
        legend: { display: false }, tooltip: { enabled: false },
        frame: {
          labels: p.labels, totalAt: p.totalAt, title: p.title, tdx: p.tdx,
          xtc: c === 0 ? 163 : 174,
          ytitle: c === 0 ? row.titleBottom : null
        }
      },
      scales: {
        x: {
          type: 'linear', min: -150, max: 100,
          afterBuildTicks: s => { s.ticks = xTicks.map(v => ({ value: v })); },
          afterFit: s => { s.height = padB; },
          grid: { display: false, drawTicks: false }, border: { display: false },
          ticks: { padding: row.tickPad, maxRotation: 0, autoSkip: false, color: '#111',
                   callback: v => (v === 100 && c < 3) ? '' : fmt(v) }
        },
        y: {
          type: 'linear', min: 0, max: yMax[p.row],
          afterFit: s => { s.width = padL; },
          grid: { display: false, drawTicks: false }, border: { display: false },
          ticks: { display: c === 0, stepSize: yStep[p.row], padding: 5, color: '#111', callback: v => fmt(v) }
        }
      }
    },
    plugins: [framePlugin]
  });
});
</script>
</body>
</html>
